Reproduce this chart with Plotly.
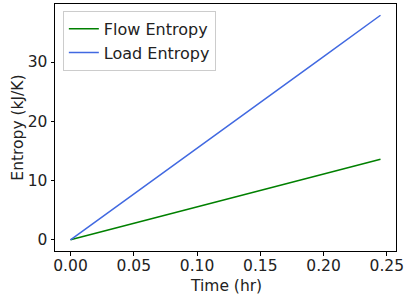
import plotly.graph_objects as go

time_hr = [0.0, 0.05, 0.10, 0.15, 0.20, 0.245]
flow_entropy = [0.0, 2.8, 5.6, 8.3, 11.1, 13.6]
load_entropy = [0.0, 7.7, 15.5, 23.2, 30.9, 37.9]

fig = go.Figure()
fig.add_trace(go.Scatter(x=time_hr, y=flow_entropy, mode="lines", name="Flow Entropy",
                         line=dict(color="#008000", width=1.5)))
fig.add_trace(go.Scatter(x=time_hr, y=load_entropy, mode="lines", name="Load Entropy",
                         line=dict(color="#4169E1", width=1.5)))

txt = "#222222"
fig.update_layout(
    width=407, height=298,
    margin=dict(l=55, r=11, t=4, b=47),
    paper_bgcolor="white", plot_bgcolor="white",
    font=dict(family="DejaVu Sans", size=15.5, color=txt),
    showlegend=True,
    legend=dict(x=0.023, y=0.972, xanchor="left", yanchor="top",
                bordercolor="#cccccc", borderwidth=1, bgcolor="rgba(255,255,255,0.8)",
                font=dict(family="DejaVu Sans", size=16, color=txt),
                tracegroupgap=0),
    annotations=[
        dict(text="Time (hr)", xref="paper", yref="paper", x=0.5, y=-0.1417,
             xanchor="center", yanchor="middle", showarrow=False,
             font=dict(family="DejaVu Sans", size=15.5, color=txt)),
        dict(text="Entropy (kJ/K)", xref="paper", yref="paper", x=-0.111, y=0.5,
             xanchor="center", yanchor="middle", showarrow=False, textangle=-90,
             font=dict(family="DejaVu Sans", size=15.5, color=txt)),
    ],
)
fig.update_xaxes(
    range=[-0.01225, 0.25725], tickvals=[0, 0.05, 0.10, 0.15, 0.20, 0.25],
    tickformat=".2f", showgrid=False, zeroline=False, automargin=False,
    showline=True, mirror=True, linecolor="black", linewidth=1,
    ticks="outside", ticklen=3.5, tickcolor="black", ticklabelstandoff=-3,
)
fig.update_yaxes(
    range=[-1.895, 39.8], tickvals=[0, 10, 20, 30],
    showgrid=False, zeroline=False, automargin=False,
    showline=True, mirror=True, linecolor="black", linewidth=1,
    ticks="outside", ticklen=3.5, tickcolor="black",
)
fig.write_html("out.html", config={"displayModeBar": False},
               post_script="document.body.style.margin='0';document.body.style.overflow='hidden';")
